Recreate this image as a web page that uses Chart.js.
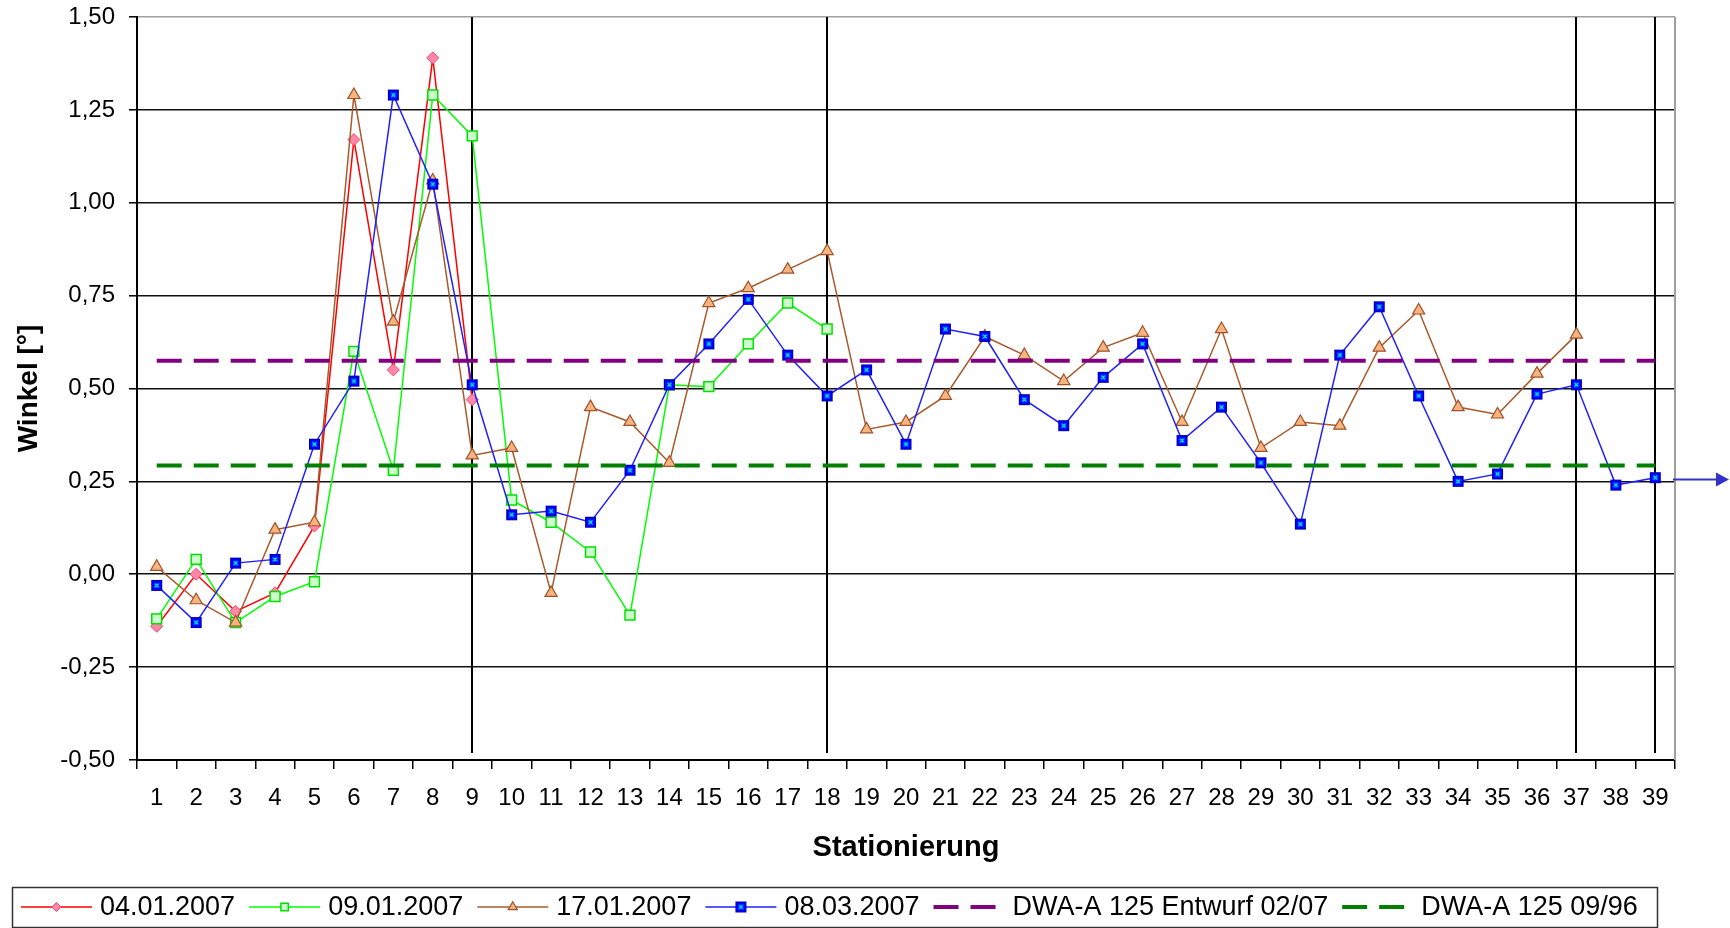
<!DOCTYPE html>
<html>
<head>
<meta charset="utf-8">
<title>Winkel je Stationierung</title>
<script src="https://cdn.jsdelivr.net/npm/chart.js@4.4.1/dist/chart.umd.min.js"></script>
<style>
    html, body { margin: 0; padding: 0; background: #fff; }
    #wrap { width: 1730px; height: 928px; }
</style>
</head>
<body>
<div id="wrap"><canvas id="winkel-chart" width="1730" height="928"></canvas></div>
<script>
// Stationierung 1..39
const stationen = ['1', '2', '3', '4', '5', '6', '7', '8', '9', '10', '11', '12', '13', '14', '15', '16', '17', '18', '19', '20',
    '21', '22', '23', '24', '25', '26', '27', '28', '29', '30', '31', '32', '33', '34', '35', '36', '37', '38', '39'];

// Messungen (Winkel in Grad)
const werte0401 = [-0.14, 0.00, -0.10, -0.05, 0.13, 1.17, 0.55, 1.39, 0.47];
const werte0901 = [-0.12, 0.04, -0.13, -0.06, -0.02, 0.60, 0.28, 1.29, 1.18, 0.20, 0.14, 0.06, -0.11, 0.51, 0.505, 0.62, 0.73, 0.66];
const werte1701 = [0.02, -0.07, -0.13, 0.12, 0.14, 1.29, 0.68, 1.06, 0.32, 0.34, -0.05, 0.45, 0.41, 0.30, 0.73, 0.77, 0.82, 0.87, 0.39, 0.41,
    0.48, 0.64, 0.59, 0.52, 0.61, 0.65, 0.41, 0.66, 0.34, 0.41, 0.40, 0.61, 0.71, 0.45, 0.43, 0.54, 0.645];
const werte0803 = [-0.03, -0.13, 0.03, 0.04, 0.35, 0.52, 1.29, 1.05, 0.51, 0.16, 0.17, 0.14, 0.28, 0.51, 0.62, 0.74, 0.59, 0.48, 0.55, 0.35,
    0.66, 0.64, 0.47, 0.40, 0.53, 0.62, 0.36, 0.45, 0.30, 0.135, 0.59, 0.72, 0.48, 0.25, 0.27, 0.485, 0.51, 0.24, 0.26];

// Grenzwerte
const grenzEntwurf = 0.575;   // DWA-A 125 Entwurf 02/07
const grenz0996 = 0.293;      // DWA-A 125 09/96

// Schaechte (senkrechte Linien) und Pfeil am Ende
const schaechte = ['9', '18', '37', '39'];
const pfeilWert = 0.257;

// Y-Achse
const yMin = -0.5, yMax = 1.5, yStep = 0.25;

const FONT = "'Liberation Sans', Arial, Helvetica, sans-serif";

// blaues Quadrat mit cyan Kreuz als Marker
function makeBlueMarker() {
    const c = document.createElement('canvas');
    c.width = 13; c.height = 13;
    const g = c.getContext('2d');
    g.fillStyle = '#0000FF';
    g.fillRect(1, 1, 11, 11);
    g.strokeStyle = '#0000B0';
    g.lineWidth = 1;
    g.strokeRect(1.5, 1.5, 10, 10);
    g.strokeStyle = '#00FFFF';
    g.lineWidth = 1.2;
    g.beginPath();
    g.moveTo(4.5, 4.5); g.lineTo(8.5, 8.5);
    g.moveTo(8.5, 4.5); g.lineTo(4.5, 8.5);
    g.stroke();
    return c;
}
const blueMarker = makeBlueMarker();

function refLine(value) {
    return [{ x: stationen[0], y: value }, { x: stationen[stationen.length - 1], y: value }];
}

const extras = {
    id: 'extras',
    beforeDatasetsDraw(chart) {
        const { ctx, chartArea: a, scales: { x } } = chart;
        ctx.save();
        // Schachtlinien
        ctx.strokeStyle = '#000';
        ctx.lineWidth = 2;
        schaechte.forEach(s => {
            const px = Math.round(x.getPixelForValue(stationen.indexOf(s)));
            ctx.beginPath();
            ctx.moveTo(px, a.top);
            ctx.lineTo(px, a.bottom - 7);
            ctx.stroke();
        });
        // rechter Rahmen grau
        ctx.strokeStyle = '#a0a0a0';
        ctx.beginPath();
        ctx.moveTo(a.right, a.top);
        ctx.lineTo(a.right, a.bottom);
        ctx.stroke();
        ctx.restore();
    },
    afterDraw(chart) {
        const { ctx, chartArea: a, scales: { y } } = chart;
        ctx.save();
        // Pfeil rechts
        const py = Math.round(y.getPixelForValue(pfeilWert)) + 0.5;
        const tip = chart.width - 1;
        ctx.strokeStyle = '#3333CC';
        ctx.fillStyle = '#3333CC';
        ctx.lineWidth = 2;
        ctx.beginPath();
        ctx.moveTo(a.right - 2, py);
        ctx.lineTo(tip - 10, py);
        ctx.stroke();
        ctx.beginPath();
        ctx.moveTo(tip, py);
        ctx.lineTo(tip - 13, py - 7);
        ctx.lineTo(tip - 13, py + 7);
        ctx.closePath();
        ctx.fill();

        // Legende mit Rahmen
        const top = 887, bottom = 927, cy = 907;
        ctx.font = '27px ' + FONT;
        ctx.textBaseline = 'middle';
        ctx.textAlign = 'left';
        let cx = 21;
        chart.data.datasets.forEach(ds => {
            ctx.strokeStyle = ds.borderColor;
            ctx.lineWidth = ds.borderDash ? ds.borderWidth : 1.5;
            ctx.setLineDash(ds.borderDash || []);
            ctx.beginPath();
            ctx.moveTo(cx, cy);
            ctx.lineTo(cx + (ds.borderDash ? 62 : 71), cy);
            ctx.stroke();
            ctx.setLineDash([]);
            if (ds.pointRadius > 0) {
                ctx.fillStyle = ds.pointBackgroundColor || ds.borderColor;
                ctx.strokeStyle = ds.pointBorderColor || ds.borderColor;
                ctx.lineWidth = ds.pointBorderWidth || 1;
                Chart.helpers.drawPoint(ctx, {
                    pointStyle: ds.pointStyle, radius: ds.pointRadius * 0.75,
                    borderWidth: ds.pointBorderWidth || 1, rotation: 0
                }, cx + 35.5, cy);
            }
            ctx.fillStyle = '#000';
            ctx.fillText(ds.label, cx + 79, cy + 1);
            cx += 79 + ctx.measureText(ds.label).width + 14;
        });
        ctx.strokeStyle = '#333';
        ctx.lineWidth = 1.5;
        ctx.strokeRect(12.5, top + 0.5, Math.max(cx - 12, 1645), bottom - top);
        ctx.restore();
    }
};

const ctx = document.getElementById('winkel-chart').getContext('2d');
new Chart(ctx, {
    type: 'line',
    data: {
        labels: stationen,
        datasets: [
            { label: '04.01.2007', data: werte0401, borderColor: '#FF0000', borderWidth: 1.5, pointStyle: 'rectRot', pointRadius: 6,
              pointBackgroundColor: '#FF88A8', pointBorderColor: '#FF4070', pointBorderWidth: 1, order: 6 },
            { label: '09.01.2007', data: werte0901, borderColor: '#00FF00', borderWidth: 1.5, pointStyle: 'rect', pointRadius: 7,
              pointBackgroundColor: '#CCFFCC', pointBorderColor: '#00E000', pointBorderWidth: 1.5, order: 5 },
            { label: '17.01.2007', data: werte1701, borderColor: '#A85A2C', borderWidth: 1.5, pointStyle: 'triangle', pointRadius: 7,
              pointBackgroundColor: '#F6B47E', pointBorderColor: '#A0522D', pointBorderWidth: 1.2, order: 4 },
            { label: '08.03.2007', data: werte0803, borderColor: '#1F1FFF', borderWidth: 1.5, pointStyle: blueMarker, pointRadius: 6,
              pointBackgroundColor: '#0000FF', pointBorderColor: '#0000B0', pointBorderWidth: 1, order: 3 },
            { label: 'DWA-A 125 Entwurf 02/07', data: refLine(grenzEntwurf), borderColor: '#800080', borderWidth: 4,
              borderDash: [25, 12], pointRadius: 0, order: 2 },
            { label: 'DWA-A 125 09/96', data: refLine(grenz0996), borderColor: '#008000', borderWidth: 4,
              borderDash: [25, 12], pointRadius: 0, order: 1 }
        ]
    },
    options: {
        responsive: false,
        animation: false,
        devicePixelRatio: 1,
        layout: { padding: { left: 0, right: 55, top: 17, bottom: 62.6 } },
        elements: { line: { tension: 0 } },
        plugins: {
            legend: { display: false },
            tooltip: { enabled: false },
            title: { display: false }
        },
        scales: {
            x: {
                offset: true,
                grid: { offset: true, drawOnChartArea: false, drawTicks: true, tickLength: 9, color: '#000', lineWidth: 1.5 },
                border: { color: '#000', width: 2 },
                ticks: { autoSkip: false, maxRotation: 0, padding: 15, color: '#000', font: { family: FONT, size: 24 } },
                title: { display: true, text: 'Stationierung', color: '#000', padding: { top: 0, bottom: 0 },
                         font: { family: FONT, size: 29, weight: 'bold' } },
                afterFit: s => { s.height = 105.4; }
            },
            y: {
                min: yMin,
                max: yMax,
                grid: {
                    color: c => (c.tick && Math.abs(c.tick.value - yMax) < 1e-6) ? '#a0a0a0' : '#111',
                    lineWidth: 1.6, tickLength: 8, tickColor: '#000', tickWidth: 1.5
                },
                border: { color: '#000', width: 2 },
                ticks: { stepSize: yStep, padding: 14, color: '#000', font: { family: FONT, size: 24 },
                         callback: v => v.toFixed(2).replace('.', ',') },
                title: { display: true, text: 'Winkel [°]', color: '#000', padding: { top: 12, bottom: 0 },
                         font: { family: FONT, size: 28, weight: 'bold' } },
                afterFit: s => { s.width = 137; s.paddingTop = 14; s.paddingBottom = 14; }
            }
        }
    },
    plugins: [extras]
});
</script>
</body>
</html>
